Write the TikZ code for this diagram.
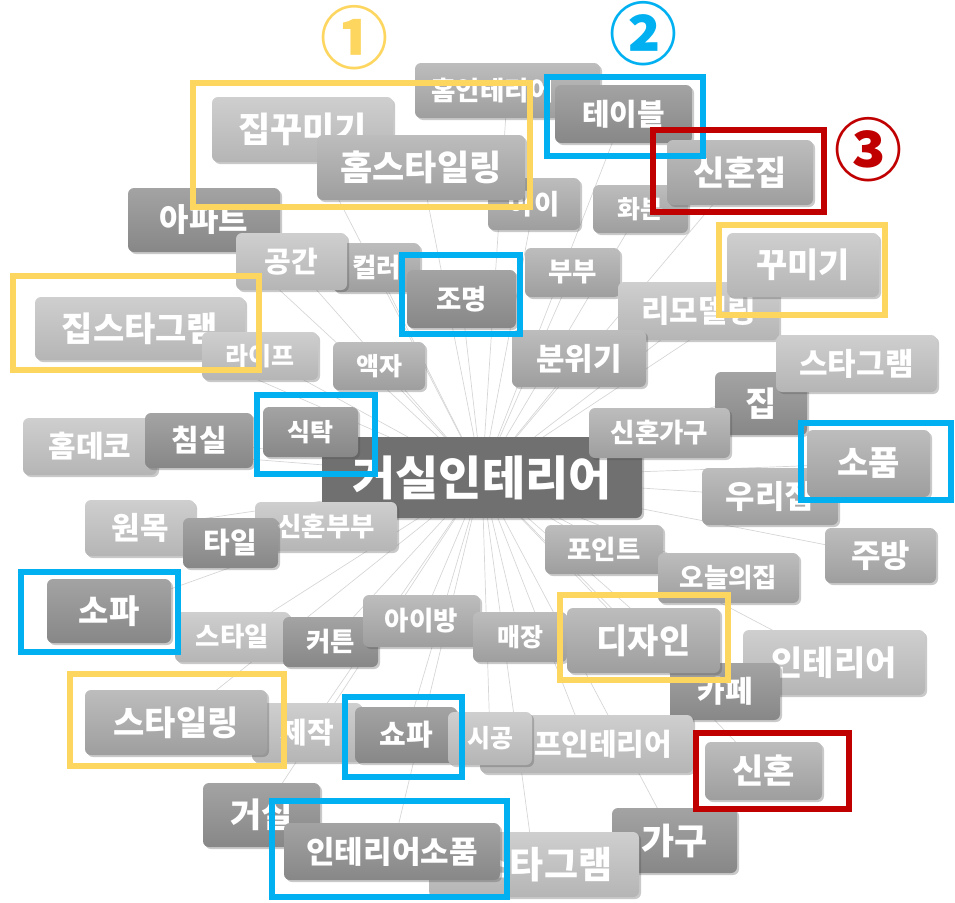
\documentclass[tikz,border=0pt]{standalone}
\usepackage{fontspec}
\newfontfamily\kr{Noto Sans CJK KR}
\usetikzlibrary{shadows,backgrounds}
\definecolor{hlY}{HTML}{FDD660}
\definecolor{hlB}{HTML}{00B0F0}
\definecolor{hlR}{HTML}{C00000}
\definecolor{linkc}{HTML}{D6D6D6}
\tikzset{
  basebox/.style={rounded corners=6pt, inner sep=0pt, text=white,
    drop shadow={shadow xshift=2pt, shadow yshift=-2pt, opacity=0.3, fill=black!70}},
  lightbox/.style={basebox, top color=black!19, bottom color=black!29},
  midbox/.style={basebox, top color=black!26, bottom color=black!38},
  darkbox/.style={basebox, top color=black!36, bottom color=black!47},
  centerbox/.style={basebox, fill=black!56},
  link/.style={draw=linkc, line width=0.7pt},
  hly/.style={draw=hlY, line width=6.5pt},
  hlb/.style={draw=hlB, line width=6.5pt},
  hlr/.style={draw=hlR, line width=6.5pt},
  numlab/.style={font=\kr\bfseries\fontsize{68}{68}\selectfont, inner sep=0pt}
}
\newcommand\gnode[8]{\node[#7, minimum width=#4pt, minimum height=#5pt,
  font=\kr\bfseries\fontsize{#6}{#6}\selectfont] (#1) at (#2,#3) {#8};}
\begin{document}
\begin{tikzpicture}[x=1pt,y=-1pt]
\useasboundingbox (0,0) rectangle (955,902);
\gnode{hominterior}{507.5}{90.5}{185}{55}{26.5}{midbox}{홈인테리어\hspace*{30pt}}
\gnode{ai}{534}{204}{92}{52}{27.5}{midbox}{아이}
\gnode{jipggumigi}{302.5}{129.5}{181}{65}{35}{lightbox}{집꾸미기}
\gnode{homstyling}{421}{167.5}{208}{65}{35}{midbox}{홈스타일링}
\gnode{table}{623.5}{114}{137}{58}{30}{darkbox}{테이블}
\gnode{hwabun}{640.5}{209}{95}{48}{25}{midbox}{화분}
\gnode{sinhonjip}{740}{172.5}{146}{65}{34}{midbox}{신혼집}
\gnode{apt}{204}{220}{152}{64}{32}{darkbox}{아파트}
\gnode{color}{376.5}{267.5}{87}{49}{26.5}{midbox}{컬러}
\gnode{gonggan}{291.5}{261.5}{111}{57}{29}{lightbox}{공간}
\gnode{jomyeong}{461.5}{299}{109}{58}{27.5}{darkbox}{조명}
\gnode{bubu}{572.5}{272.5}{95}{49}{26.5}{midbox}{부부}
\gnode{remodeling}{698.5}{311}{161}{58}{31}{lightbox}{리모델링}
\gnode{ggumigi}{803}{265}{152}{64}{34}{lightbox}{꾸미기}
\gnode{atmosphere}{579}{358.5}{134}{57}{31}{midbox}{분위기}
\gnode{jipstagram}{140}{328.5}{210}{63}{34}{lightbox}{집스타그램}
\gnode{life}{260}{356}{116}{48}{25}{lightbox}{라이프}
\gnode{aekja}{379}{366}{92}{48}{25}{midbox}{액자}
\gnode{jip}{761}{403.5}{92}{63}{34}{darkbox}{집}
\gnode{stagramA}{856.5}{363.5}{161}{57}{31}{lightbox}{스타그램}
\gnode{center}{482}{477.5}{320}{81}{47}{centerbox}{거실인테리어}
\gnode{sinhongagu}{659.5}{433}{141}{50}{26.5}{midbox}{신혼가구}
\gnode{urijip}{770}{496.5}{136}{57}{32}{midbox}{우리집}
\gnode{sopum}{868.5}{463.5}{123}{67}{34}{midbox}{소품}
\gnode{homdeco}{90}{446.5}{134}{57}{30}{lightbox}{홈데코}
\gnode{chimsil}{199}{440.5}{108}{55}{30}{darkbox}{침실}
\gnode{siktak}{310.5}{432}{95}{50}{25}{darkbox}{식탁}
\gnode{wonmok}{140}{528}{110}{56}{31}{lightbox}{원목}
\gnode{sinhonbubu}{326}{526.5}{142}{49}{26.5}{lightbox}{신혼부부}
\gnode{tile}{230.5}{543}{95}{50}{29}{darkbox}{타일}
\gnode{jubang}{880.5}{555.5}{111}{55}{32}{midbox}{주방}
\gnode{point}{604}{549.5}{118}{49}{26.5}{midbox}{포인트}
\gnode{oneuljip}{728.5}{578}{141}{50}{26.5}{midbox}{오늘의집}
\gnode{sofa}{109}{611}{124}{64}{33}{darkbox}{소파}
\gnode{style}{232.5}{637}{115}{50}{26.5}{lightbox}{스타일}
\gnode{curtain}{330.5}{642}{95}{50}{26.5}{darkbox}{커튼}
\gnode{aibang}{421.5}{621}{117}{52}{26.5}{midbox}{아이방}
\gnode{maejang}{520}{637}{94}{50}{25}{midbox}{매장}
\gnode{interior}{834}{662.5}{182}{65}{34}{lightbox}{인테리어}
\gnode{cafe}{725}{691.5}{110}{57}{30}{darkbox}{카페}
\gnode{design}{643.5}{640.5}{153}{65}{34}{midbox}{디자인}
\gnode{jejak}{307}{732.5}{110}{59}{29}{lightbox}{제작}
\gnode{styling}{176}{722.5}{182}{65}{34}{midbox}{스타일링}
\gnode{syopa}{406}{735}{102}{56}{29}{darkbox}{쇼파}
\gnode{selfint}{586.5}{744}{213}{58}{30}{lightbox}{\hspace*{33pt}프인테리어}
\gnode{sigong}{490}{738.5}{84}{53}{25}{lightbox}{시공}
\gnode{sinhon}{763.5}{771}{117}{58}{34}{midbox}{신혼}
\gnode{geosil}{261.5}{815}{117}{64}{34}{darkbox}{거실}
\gnode{gagu}{674.5}{840.5}{125}{65}{36}{darkbox}{가구}
\gnode{stagramB}{534}{864.5}{210}{65}{37}{lightbox}{\hspace*{20pt}스타그램}
\gnode{sopum2}{392}{851.5}{216}{57}{31}{darkbox}{인테리어소품}

\begin{scope}[on background layer]
\foreach \n in {hominterior,ai,jipggumigi,homstyling,table,hwabun,sinhonjip,apt,color,gonggan,jomyeong,bubu,remodeling,ggumigi,atmosphere,jipstagram,life,aekja,jip,stagramA,sinhongagu,urijip,sopum,homdeco,chimsil,siktak,wonmok,sinhonbubu,tile,jubang,point,oneuljip,sofa,style,curtain,aibang,maejang,interior,cafe,design,jejak,styling,syopa,selfint,sigong,sinhon,geosil,gagu,stagramB,sopum2}
  \draw[link] (center.center) -- (\n.center);
\end{scope}

% highlight frames
\draw[hly] (193,83) rectangle (530,207);
\draw[hlb] (547,77) rectangle (703,156);
\draw[hlr] (653,130) rectangle (824,212);
\draw[hly] (719,225) rectangle (885,315);
\draw[hly] (13,276) rectangle (259,370);
\draw[hlb] (402,255) rectangle (520,334);
\draw[hlb] (257,395) rectangle (375,474);
\draw[hlb] (801,423) rectangle (951,500);
\draw[hlb] (21,572) rectangle (178,652);
\draw[hly] (70,674) rectangle (284,766);
\draw[hlb] (345,697) rectangle (462,777);
\draw[hly] (560,595) rectangle (728,680);
\draw[hlr] (696,733) rectangle (849,809);
\draw[hlb] (272,801) rectangle (507,897);

\node[numlab, text=hlY] (n1) at (354,38) {①};
\node[numlab, text=hlB] (n2) at (643,34) {②};
\node[numlab, text=hlR] (n3) at (868,150) {③};
\end{tikzpicture}
\end{document}
